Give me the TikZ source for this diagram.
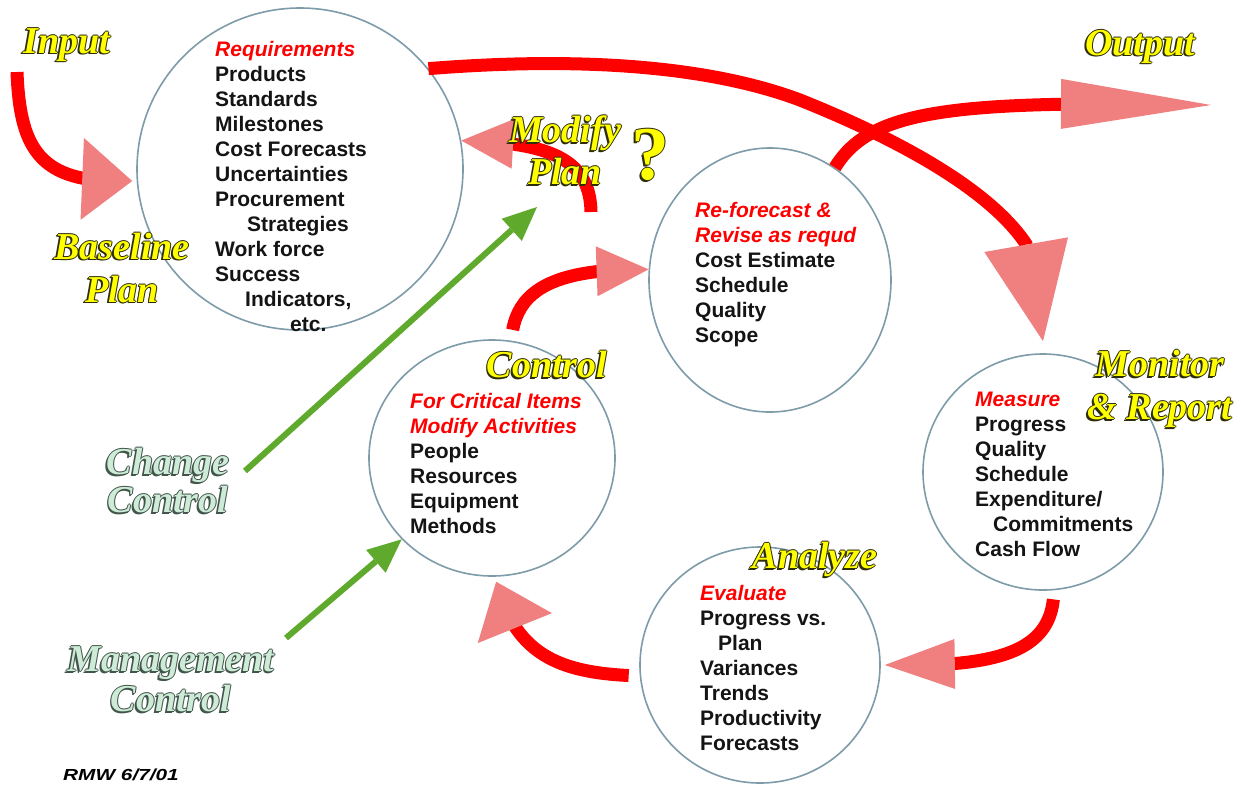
\documentclass[tikz,border=0pt]{standalone}
\usepackage{fontspec}
\setmainfont{Liberation Sans}
\newfontfamily\fancyfont{Liberation Serif}
\usetikzlibrary{arrows.meta,bending,shapes.geometric}
\definecolor{headpink}{RGB}{240,128,128}
\definecolor{ringc}{RGB}{125,155,168}
\definecolor{arrgreen}{RGB}{95,170,45}
\definecolor{fancyyel}{RGB}{255,255,0}
\definecolor{fancyout}{RGB}{45,45,10}
\definecolor{mintfill}{RGB}{205,235,215}
\definecolor{mintout}{RGB}{65,85,75}
\definecolor{bodyc}{RGB}{20,20,20}
\newcommand\outl[3]{%
\makebox[0pt][l]{\kern-1pt\textcolor{#2}{#3}}%
\makebox[0pt][l]{\kern1pt\textcolor{#2}{#3}}%
\makebox[0pt][l]{\raisebox{1pt}{\textcolor{#2}{#3}}}%
\makebox[0pt][l]{\raisebox{-1pt}{\textcolor{#2}{#3}}}%
\makebox[0pt][l]{\kern-1.8pt\raisebox{-1.8pt}{\textcolor{#2}{#3}}}%
\textcolor{#1}{#3}}
\newcommand\yeltxt[1]{\outl{fancyyel}{fancyout}{#1}}
\newcommand\minttxt[1]{\outl{mintfill}{mintout}{#1}}
\newcommand\hl[1]{\textcolor{red}{\itshape #1}}
\tikzset{
 ring/.style={draw=ringc, line width=1.6pt, ellipse, inner sep=0pt},
 body/.style={anchor=north west, inner sep=0pt, align=left, text=bodyc,
   font=\fontsize{21}{25}\selectfont\bfseries},
 fancy/.style={inner sep=0pt, align=center,
   font=\fancyfont\fontsize{38}{43}\selectfont\bfseries\itshape},
 redline/.style={draw=red, line width=13pt},
 pinkhead/.style 2 args={-{Triangle[length=#1, width=#2, color=headpink, fill=headpink, line width=0pt]}},
 greenline/.style={draw=arrgreen, line width=6pt,
   -{Triangle[length=34pt, width=30pt, color=arrgreen, fill=arrgreen, line width=0pt]}},
}
\begin{document}
\begin{tikzpicture}[x=1pt,y=-1pt]
\fill[white] (0,0) rectangle (1241,788);
\useasboundingbox (0,0) rectangle (1241,788);

% circles
\node[ring, minimum width=326pt, minimum height=322pt] (req) at (300,169) {};
\node[ring, minimum width=242pt, minimum height=264pt] (ref) at (770,280) {};
\node[ring, minimum width=246pt, minimum height=236pt] (ctl) at (492,458) {};
\node[ring, minimum width=240pt, minimum height=236pt] (mon) at (1043,472) {};
\node[ring, minimum width=240pt, minimum height=236pt] (ana) at (760,665) {};

% free ends
\coordinate (inStart) at (17,72);
\coordinate (outEnd) at (1211,105);
\coordinate (modStart) at (591,212);
\coordinate (chgStart) at (245,471);
\coordinate (chgEnd) at (537,207);
\coordinate (mgtStart) at (286,638);

% red arrows
\draw[redline, pinkhead={50pt}{82pt}] (inStart) .. controls (20,150) and (40,185) .. ([xshift=-4pt,yshift=-12pt]req.west);
\draw[redline, pinkhead={98pt}{85pt}] (req.38) .. controls (600,55) and (720,70) .. (800,100) .. controls (900,140) and (990,190) .. (1026,244) -- ([yshift=12pt]mon.north);
\draw[redline, pinkhead={150pt}{50pt}] (ref.60) .. controls (870,110) and (950,100) .. (outEnd);
\draw[redline, pinkhead={52pt}{50pt}] (modStart) .. controls (590,165) and (560,142) .. (req.10);
\draw[redline, pinkhead={52pt}{50pt}] ([yshift=11pt]ctl.80) .. controls (520,290) and (555,268) .. (ref.175);
\draw[redline, pinkhead={70pt}{50pt}] ([yshift=-9pt]mon.-85) .. controls (1048,650) and (1000,668) .. ([xshift=4pt]ana.east);
\draw[redline, pinkhead={50pt}{80pt}] ([xshift=-11pt]ana.185) .. controls (560,672) and (515,655) .. ([yshift=-5pt]ctl.-88);

% green arrows
\draw[greenline] (chgStart) -- (chgEnd);
\draw[greenline] (mgtStart) -- (ctl.222);

% circle texts
\node[body] (reqtxt) at (215,41) {\hl{Requirements}\\Products\\Standards\\Milestones\\Cost Forecasts\\Uncertainties\\Procurement\\\hspace*{32pt}Strategies\\Work force\\Success\\\hspace*{30pt}Indicators,\\\hspace*{75pt}etc.};
\node[body] (reftxt) at (695,202) {\hl{Re-forecast \&}\\\hl{Revise as requd}\\Cost Estimate\\Schedule\\Quality\\Scope};
\node[body] (ctltxt) at (410,393) {\hl{For Critical Items}\\\hl{Modify Activities}\\People\\Resources\\Equipment\\Methods};
\node[body] (montxt) at (975,392) {\hl{Measure}\\Progress\\Quality\\Schedule\\Expenditure/\\\hspace*{18pt}Commitments\\Cash Flow};
\node[body] (anatxt) at (700,585) {\hl{Evaluate}\\Progress vs.\\\hspace*{18pt}Plan\\Variances\\Trends\\Productivity\\Forecasts};

% fancy labels
\node[fancy] (lin) at (67,45) {\yeltxt{Input}};
\node[fancy] (lbase) at (122,268) {\yeltxt{Baseline}\\\yeltxt{Plan}};
\node[fancy, font=\fancyfont\fontsize{38}{42}\selectfont\bfseries\itshape] (lmod) at (565,151) {\yeltxt{Modify}\\\yeltxt{Plan}};
\node[fancy, font=\fancyfont\fontsize{76}{80}\selectfont\bfseries] (lq) at (650,155) {\yeltxt{?}};
\node[fancy] (lout) at (1140,47) {\yeltxt{Output}};
\node[fancy] (lctl) at (547,365) {\yeltxt{Control}};
\node[fancy] (lmon) at (1160,389) {\yeltxt{Monitor}\\\yeltxt{\& Report}};
\node[fancy] (lana) at (815,560) {\yeltxt{Analyze}};
\node[fancy, font=\fancyfont\fontsize{38}{38}\selectfont\bfseries\itshape] (lchg) at (168,481) {\minttxt{Change}\\\minttxt{Control}};
\node[fancy, font=\fancyfont\fontsize{38}{40}\selectfont\bfseries\itshape] (lmgt) at (171,680) {\minttxt{Management}\\\minttxt{Control}};
\node[inner sep=0pt, font=\fontsize{16}{18}\selectfont\bfseries\itshape, xscale=1.3] (rmw) at (121,775) {RMW 6/7/01};
\end{tikzpicture}
\end{document}
